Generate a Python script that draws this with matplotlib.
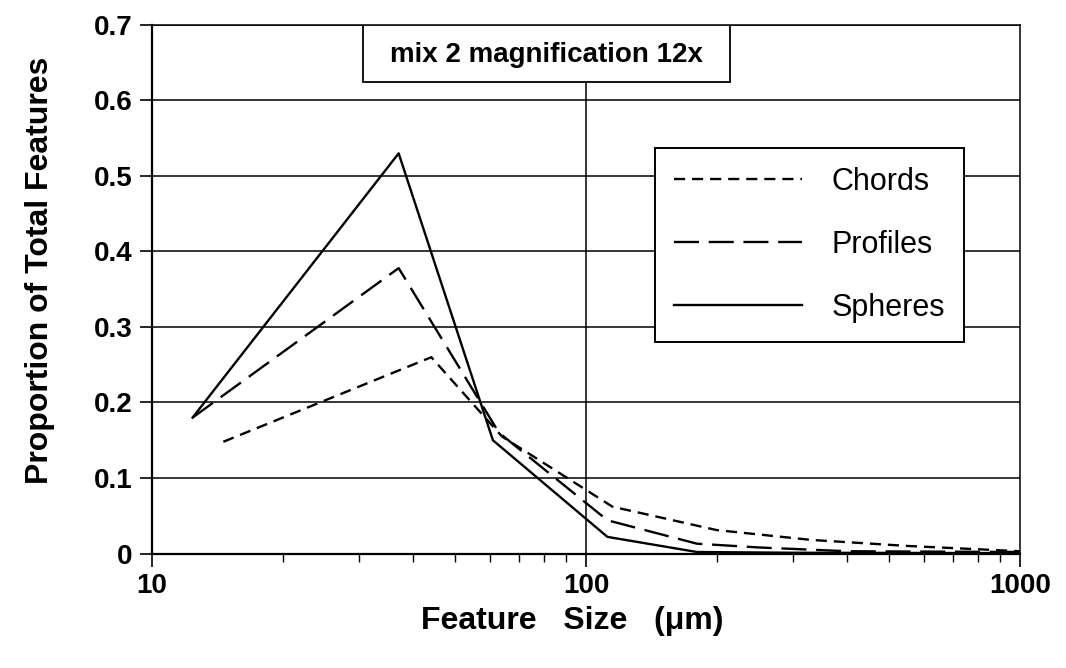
import matplotlib
matplotlib.use("Agg")
import matplotlib.pyplot as plt
from matplotlib.patches import Rectangle
from matplotlib.ticker import FixedLocator, FixedFormatter, LogLocator, NullFormatter

plt.rcParams['font.family'] = ['Liberation Sans', 'DejaVu Sans']
plt.rcParams['lines.scale_dashes'] = False

# Data (feature size in µm, proportion of total features)
chords_x = [14.6, 44, 64, 115, 200, 330, 550, 1000]
chords_y = [0.148, 0.26, 0.155, 0.062, 0.031, 0.018, 0.010, 0.003]
profiles_x = [12.4, 37, 63, 112, 180, 250, 400, 1000]
profiles_y = [0.18, 0.378, 0.16, 0.044, 0.013, 0.008, 0.003, 0.002]
spheres_x = [12.4, 37, 61, 112, 180, 300, 1000]
spheres_y = [0.18, 0.53, 0.15, 0.022, 0.002, 0.001, 0.0005]

y_ticks = [0, 0.1, 0.2, 0.3, 0.4, 0.5, 0.6, 0.7]
y_labels = ["0", "0.1", "0.2", "0.3", "0.4", "0.5", "0.6", "0.7"]
x_ticks = [10, 100, 1000]
x_labels = ["10", "100", "1000"]

fig = plt.figure(figsize=(10.66, 6.68), dpi=100)
ax = fig.add_axes([0.1426, 0.1714, 0.8144, 0.7912])

ax.set_xscale('log')
ax.set_xlim(10, 1000)
ax.set_ylim(0, 0.7)

# grid
for v in y_ticks[1:]:
    ax.axhline(v, color='black', lw=1.1, zorder=1)
ax.axvline(100, color='black', lw=1.1, zorder=1)

lc, = ax.plot(chords_x, chords_y, color='black', lw=1.7, dashes=(8, 5), label='Chords', zorder=3)
lp, = ax.plot(profiles_x, profiles_y, color='black', lw=1.7, dashes=(18, 7), label='Profiles', zorder=3)
ls, = ax.plot(spheres_x, spheres_y, color='black', lw=1.7, label='Spheres', zorder=3)

ax.yaxis.set_major_locator(FixedLocator(y_ticks))
ax.yaxis.set_major_formatter(FixedFormatter(y_labels))
ax.xaxis.set_major_locator(FixedLocator(x_ticks))
ax.xaxis.set_major_formatter(FixedFormatter(x_labels))
ax.xaxis.set_minor_locator(LogLocator(base=10, subs=range(2, 10)))
ax.xaxis.set_minor_formatter(NullFormatter())

ax.tick_params(axis='both', which='major', direction='out', length=9, width=1.2,
               labelsize=20, pad=5)
ax.tick_params(axis='x', which='minor', direction='out', length=6, width=1.0)
for lab in ax.get_xticklabels() + ax.get_yticklabels():
    lab.set_fontweight('bold')

for s in ['left', 'bottom']:
    ax.spines[s].set_linewidth(1.6)
for s in ['top', 'right']:
    ax.spines[s].set_linewidth(1.1)

ax.set_xlabel('Feature   Size   (\u03bcm)', fontsize=23, fontweight='bold')
ax.xaxis.set_label_coords(0.484, -0.100)
ax.set_ylabel('Proportion of Total Features', fontsize=23, fontweight='bold')
ax.yaxis.set_label_coords(-0.112, 0.536)

# title box
ax.add_patch(Rectangle((0.243, 0.892), 0.423, 0.108, transform=ax.transAxes,
                       facecolor='white', edgecolor='black', lw=1.3, zorder=5))
ax.text(0.4545, 0.944, 'mix 2 magnification 12x', transform=ax.transAxes,
        ha='center', va='center', fontsize=20, fontweight='bold', zorder=6)

leg = ax.legend(handles=[lc, lp, ls], loc='upper left', bbox_to_anchor=(0.5795, 0.767),
                fontsize=22, frameon=True, fancybox=False, framealpha=1,
                edgecolor='black', handlelength=4.2, handletextpad=0.95,
                labelspacing=1.08, borderpad=0.62, borderaxespad=0)
leg.get_frame().set_linewidth(1.4)
leg.set_zorder(6)

fig.savefig('out.png', dpi=100)
